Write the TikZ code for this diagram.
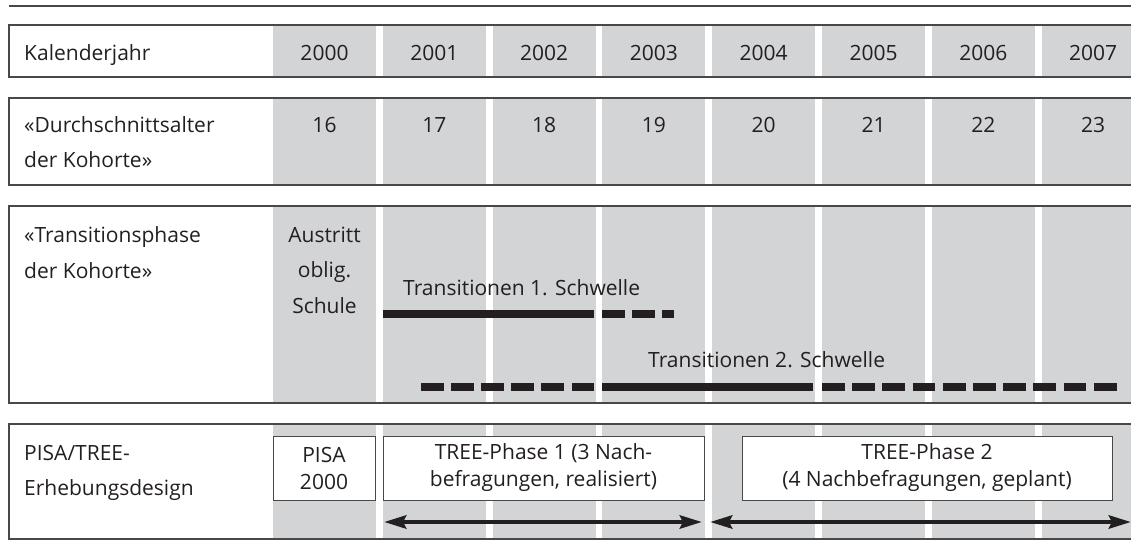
\documentclass[tikz,border=0pt]{standalone}
\usepackage{fontspec}
\setmainfont{Open Sans}
\usetikzlibrary{arrows.meta}
\definecolor{colgray}{RGB}{211,212,214}
\definecolor{rule}{RGB}{72,72,72}
\definecolor{ink}{RGB}{35,31,32}
\begin{document}
\begin{tikzpicture}[x=1pt,y=-1pt,
  every node/.style={font=\fontsize{21}{26}\selectfont, text=ink, inner sep=0pt},
  lbl/.style={anchor=base west},
  num/.style={anchor=base},
  rowline/.style={draw=rule, line width=1.3pt},
  tl/.style={draw=ink, line width=7.7pt},
  dshA/.style={tl, dash pattern=on 22.5pt off 7.6pt},
  dshB/.style={tl, dash pattern=on 22.8pt off 7.4pt},
  phase/.style={draw=rule, line width=1pt, fill=white, align=center, minimum height=64pt,
    font=\fontsize{21}{27}\selectfont},
  span/.style={draw=ink, line width=4.5pt,
    {Stealth[length=22pt,width=13pt,inset=3pt]}-{Stealth[length=22pt,width=13pt,inset=3pt]}}]
\useasboundingbox (0,0) rectangle (1131,545);
% grey year columns
\foreach \t/\b in {25/77, 98/185, 206/403, 424/539}{
  \foreach \i in {0,...,7}{
    \fill[colgray] (273+109.8*\i,\t) rectangle ++(103,\b-\t);
  }
}
% rules
\draw[rowline] (9,6) -- (1131,6);
\foreach \t/\b in {25/77, 98/185, 206/403, 424/539}{
  \draw[rowline] (1131,\t) -- (9,\t) -- (9,\b) -- (1131,\b);
}
% row 1
\node[lbl] (kal) at (24,61) {Kalenderjahr};
\foreach \y [count=\i from 0] in {2000,...,2007}
  \node[num] (y\y) at (324.5+109.8*\i,61) {\y};
% row 2
\node[lbl] (alt1) at (24,133) {«Durchschnittsalter};
\node[lbl] (alt2) at (24,168) {der Kohorte»};
\foreach \a [count=\i from 0] in {16,...,23}
  \node[num] (a\a) at (324.5+109.8*\i,133) {\a};
% row 3
\node[lbl] (tr1) at (24,242) {«Transitionsphase};
\node[lbl] (tr2) at (24,278) {der Kohorte»};
\node[num] (aus1) at (324.5,242) {Austritt};
\node[num] (aus2) at (324.5,277) {oblig.};
\node[num] (aus3) at (324.5,313) {Schule};
\node[lbl] (s1) at (403,295) {Transitionen 1. Schwelle};
\node[lbl] (s2) at (648,367) {Transitionen 2. Schwelle};
\coordinate (t1a) at (383,314);
\coordinate (t1b) at (594,314);
\coordinate (t1c) at (602,314);
\coordinate (t1d) at (674,314);
\draw[tl] (t1a) -- (t1b);
\draw[dshA] (t1c) -- (t1d);
\coordinate (t2a) at (421,387);
\coordinate (t2b) at (594,387);
\coordinate (t2c) at (602,387);
\coordinate (t2d) at (813,387);
\coordinate (t2e) at (822,387);
\coordinate (t2f) at (1117,387);
\draw[dshA] (t2a) -- (t2b);
\draw[tl] (t2c) -- (t2d);
\draw[dshB] (t2e) -- (t2f);
% row 4
\node[lbl] (pt1) at (24,460) {PISA/TREE-};
\node[lbl] (pt2) at (24,495) {Erhebungsdesign};
\node[phase, minimum width=102pt] (pisa) at (324,468) {PISA\\2000};
\node[phase, minimum width=321pt] (tree1) at (543.5,468) {TREE-Phase 1 (3 Nach-\\befragungen, realisiert)};
\node[phase, minimum width=370pt] (tree2) at (927,468) {TREE-Phase 2\\(4 Nachbefragungen, geplant)};
\coordinate (a1l) at (384,522);
\coordinate (a1r) at (702,522);
\coordinate (a2l) at (710,522);
\coordinate (a2r) at (1131,522);
\draw[span] (a1l) -- (a1r);
\draw[span] (a2l) -- (a2r);
\end{tikzpicture}
\end{document}
